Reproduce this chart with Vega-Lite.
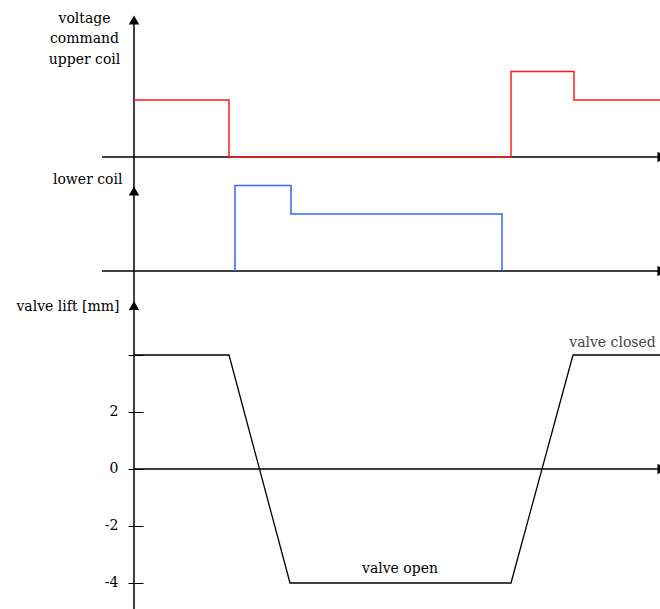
{
  "$schema": "https://vega.github.io/schema/vega-lite/v6.json",
  "padding": 0,
  "spacing": 0,
  "bounds": "flush",
  "data": {"values": [{}]},
  "config": {
    "view": {"stroke": null},
    "font": "DejaVu Serif",
    "axis": {"minExtent": 0, "maxExtent": 0, "grid": false, "titleFont": "DejaVu Serif", "labelFont": "DejaVu Serif", "titleFontWeight": "normal", "titleFontSize": 14, "titleColor": "#000", "labelColor": "#000"}
  },
  "datasets": {
    "upper": [
      {"i": 0, "t": 0, "v": 2},
      {"i": 1, "t": 18.06, "v": 2},
      {"i": 2, "t": 18.06, "v": 0},
      {"i": 3, "t": 71.67, "v": 0},
      {"i": 4, "t": 71.67, "v": 3},
      {"i": 5, "t": 83.65, "v": 3},
      {"i": 6, "t": 83.65, "v": 2},
      {"i": 7, "t": 100, "v": 2}
    ],
    "lower": [
      {"i": 0, "t": 19.2, "v": 0},
      {"i": 1, "t": 19.2, "v": 3},
      {"i": 2, "t": 29.85, "v": 3},
      {"i": 3, "t": 29.85, "v": 2},
      {"i": 4, "t": 69.96, "v": 2},
      {"i": 5, "t": 69.96, "v": 0}
    ],
    "lift": [
      {"i": 0, "t": 0, "v": 4},
      {"i": 1, "t": 18.06, "v": 4},
      {"i": 2, "t": 29.66, "v": -4},
      {"i": 3, "t": 71.67, "v": -4},
      {"i": 4, "t": 83.46, "v": 4},
      {"i": 5, "t": 100, "v": 4}
    ],
    "notes": [
      {"label": "valve open", "t": 50.57, "v": -3.65},
      {"label": "valve closed", "t": 90.97, "v": 4.28}
    ]
  },
  "vconcat": [
    {
      "width": 660,
      "height": 171,
      "layer": [
        {
          "mark": {"type": "rule", "color": "#000", "strokeWidth": 1.5},
          "encoding": {
            "x": {"datum": -6.084, "type": "quantitative", "scale": {"domain": [-25.4753, 100], "nice": false, "zero": false}, "axis": null},
            "x2": {"datum": 100},
            "y": {"datum": 0, "type": "quantitative", "scale": {"domain": [-0.4912, 5.5088], "nice": false, "zero": false},
              "axis": {"domain": false, "ticks": false, "labels": false, "title": ["voltage", "command", "upper coil"], "titleAngle": 0, "titleX": 84, "titleY": 22, "titleAlign": "center", "titleBaseline": "alphabetic", "titleLineHeight": 20.5}}
          }
        },
        {
          "mark": {"type": "rule", "color": "#000", "strokeWidth": 1.5},
          "encoding": {"x": {"datum": 0, "type": "quantitative"}, "y": {"datum": 4.807, "type": "quantitative"}, "y2": {"datum": -0.4912}}
        },
        {
          "mark": {"type": "point", "shape": "triangle-up", "filled": true, "color": "#000", "size": 110, "opacity": 1},
          "encoding": {"x": {"datum": 0, "type": "quantitative"}, "y": {"datum": 4.807, "type": "quantitative"}}
        },
        {
          "mark": {"type": "point", "shape": "triangle-right", "filled": true, "color": "#000", "size": 110, "opacity": 1},
          "encoding": {"x": {"datum": 100.38, "type": "quantitative"}, "y": {"datum": 0, "type": "quantitative"}}
        },
        {
          "data": {"name": "upper"},
          "mark": {"type": "line", "color": "#ff1a1a", "strokeWidth": 1.5},
          "encoding": {"x": {"field": "t", "type": "quantitative"}, "y": {"field": "v", "type": "quantitative"}, "order": {"field": "i"}}
        }
      ]
    },
    {
      "width": 660,
      "height": 119,
      "layer": [
        {
          "mark": {"type": "rule", "color": "#000", "strokeWidth": 1.5},
          "encoding": {
            "x": {"datum": -6.084, "type": "quantitative", "scale": {"domain": [-25.4753, 100], "nice": false, "zero": false}, "axis": null},
            "x2": {"datum": 100},
            "y": {"datum": 0, "type": "quantitative", "scale": {"domain": [-0.6667, 3.5088], "nice": false, "zero": false},
              "axis": {"domain": false, "ticks": false, "labels": false, "title": "lower coil", "titleAngle": 0, "titleX": 122, "titleY": 12, "titleAlign": "right", "titleBaseline": "alphabetic"}}
          }
        },
        {
          "mark": {"type": "rule", "color": "#000", "strokeWidth": 1.5},
          "encoding": {"x": {"datum": 0, "type": "quantitative"}}
        },
        {
          "mark": {"type": "point", "shape": "triangle-up", "filled": true, "color": "#000", "size": 110, "opacity": 1},
          "encoding": {"x": {"datum": 0, "type": "quantitative"}, "y": {"datum": 2.807, "type": "quantitative"}}
        },
        {
          "mark": {"type": "point", "shape": "triangle-right", "filled": true, "color": "#000", "size": 110, "opacity": 1},
          "encoding": {"x": {"datum": 100.38, "type": "quantitative"}, "y": {"datum": 0, "type": "quantitative"}}
        },
        {
          "data": {"name": "lower"},
          "mark": {"type": "line", "color": "#3366ff", "strokeWidth": 1.5},
          "encoding": {"x": {"field": "t", "type": "quantitative"}, "y": {"field": "v", "type": "quantitative"}, "order": {"field": "i"}}
        }
      ]
    },
    {
      "width": 660,
      "height": 319,
      "layer": [
        {
          "mark": {"type": "rule", "color": "#000", "strokeWidth": 1.5},
          "encoding": {
            "x": {"datum": 0, "type": "quantitative", "scale": {"domain": [-25.4753, 100], "nice": false, "zero": false}, "axis": null},
            "x2": {"datum": 100},
            "y": {"datum": 0, "type": "quantitative", "scale": {"domain": [-4.9123, 6.2807], "nice": false, "zero": false},
              "axis": {"offset": -143, "domain": false, "values": [-4, -2, 0, 2, 4], "labelExpr": "datum.value == 4 ? '' : toString(datum.value)", "tickSize": 15, "tickColor": "#000", "tickWidth": 1, "labelFontSize": 14, "labelPadding": 10, "title": "valve lift [mm]", "titleAngle": 0, "titleX": -24, "titleY": 20, "titleAlign": "right", "titleBaseline": "alphabetic"}}
          }
        },
        {
          "mark": {"type": "rule", "color": "#000", "strokeWidth": 1.5},
          "encoding": {"x": {"datum": 0, "type": "quantitative"}}
        },
        {
          "mark": {"type": "point", "shape": "triangle-up", "filled": true, "color": "#000", "size": 110, "opacity": 1},
          "encoding": {"x": {"datum": 0, "type": "quantitative"}, "y": {"datum": 5.737, "type": "quantitative"}}
        },
        {
          "mark": {"type": "point", "shape": "triangle-right", "filled": true, "color": "#000", "size": 110, "opacity": 1},
          "encoding": {"x": {"datum": 100.38, "type": "quantitative"}, "y": {"datum": 0, "type": "quantitative"}}
        },
        {
          "data": {"name": "lift"},
          "mark": {"type": "line", "color": "#000", "strokeWidth": 1.3},
          "encoding": {"x": {"field": "t", "type": "quantitative"}, "y": {"field": "v", "type": "quantitative"}, "order": {"field": "i"}}
        },
        {
          "data": {"name": "notes"},
          "mark": {"type": "text", "fontSize": 14, "baseline": "alphabetic", "align": "center", "font": "DejaVu Serif"},
          "encoding": {
            "x": {"field": "t", "type": "quantitative"},
            "y": {"field": "v", "type": "quantitative"},
            "text": {"field": "label"},
            "color": {"condition": {"test": "datum.label == 'valve open'", "value": "#000"}, "value": "#444"}
          }
        }
      ]
    }
  ]
}
